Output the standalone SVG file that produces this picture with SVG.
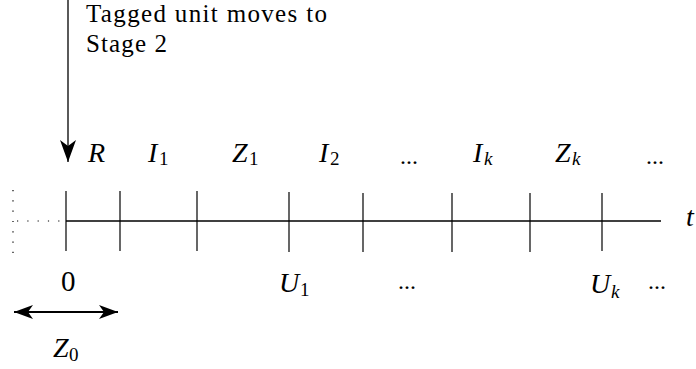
<svg xmlns="http://www.w3.org/2000/svg" width="696" height="369" viewBox="0 0 696 369">
<style>
text{font-family:"Liberation Serif","DejaVu Serif",serif;fill:#000}
.m{font-style:italic;font-size:28px}
.s{font-size:19px;font-style:normal}
.si{font-size:19px;font-style:italic}
.n{font-size:29px}
.d{font-size:24px}
.cap{font-size:25px}
.tk{stroke:#000;stroke-width:1.2}
</style>
<defs>
<marker id="big" viewBox="0 0 22 16" refX="22" refY="8" markerWidth="22" markerHeight="16" markerUnits="userSpaceOnUse" orient="auto">
<path d="M0,0 L22,8 L0,16 L6,8 Z" fill="#000"/>
</marker>
<marker id="dbl" viewBox="0 0 19 14" refX="19" refY="7" markerWidth="19" markerHeight="14" markerUnits="userSpaceOnUse" orient="auto-start-reverse">
<path d="M0,0 L19,7 L0,14 L5,7 Z" fill="#000"/>
</marker>
</defs>
<g id="connectors">
<line x1="68" y1="0" x2="68" y2="162" stroke="#000" stroke-width="1.3" marker-end="url(#big)"/>
<line x1="14" y1="312" x2="118" y2="312" stroke="#000" stroke-width="1.8" marker-start="url(#dbl)" marker-end="url(#dbl)"/>
</g>
<g id="axis">
<line x1="66" y1="221" x2="661" y2="221" stroke="#000" stroke-width="1.3"/>
<line x1="17" y1="221" x2="64" y2="221" stroke="#000" stroke-width="1.2" stroke-dasharray="1.2,9.1"/>
<line x1="13" y1="190" x2="13" y2="253" stroke="#000" stroke-width="1.2" stroke-dasharray="1.2,9.1"/>
<line class="tk" x1="66" y1="191" x2="66" y2="251"/>
<line class="tk" x1="120" y1="191" x2="120" y2="251"/>
<line class="tk" x1="197" y1="191" x2="197" y2="251"/>
<line class="tk" x1="289" y1="192" x2="289" y2="252"/>
<line class="tk" x1="363" y1="193" x2="363" y2="252"/>
<line class="tk" x1="452" y1="193" x2="452" y2="252"/>
<line class="tk" x1="530" y1="193" x2="530" y2="252"/>
<line class="tk" x1="602" y1="193" x2="602" y2="251"/>
</g>
<g id="caption">
<text class="cap" x="86" y="22" textLength="241" lengthAdjust="spacing">Tagged unit moves to</text>
<text class="cap" x="86" y="52" textLength="81" lengthAdjust="spacing">Stage 2</text>
</g>
<g id="top-labels">
<text class="m" x="88" y="162">R</text>
<text class="m" x="148" y="162">I<tspan class="s" x="159" dy="3">1</tspan></text>
<text class="m" x="232" y="162">Z<tspan class="s" x="249" dy="3">1</tspan></text>
<text class="m" x="319" y="162">I<tspan class="s" x="330" dy="3">2</tspan></text>
<text class="d" x="400" y="164">...</text>
<text class="m" x="473" y="162">I<tspan class="si" x="484" dy="3">k</tspan></text>
<text class="m" x="555" y="162">Z<tspan class="si" x="572" dy="3">k</tspan></text>
<text class="d" x="646" y="164">...</text>
<text class="m" x="686" y="226">t</text>
</g>
<g id="bottom-labels">
<text class="n" x="61" y="291">0</text>
<text class="m" x="279" y="292">U<tspan class="s" x="300" dy="4">1</tspan></text>
<text class="d" x="398" y="289">...</text>
<text class="m" x="590" y="293">U<tspan class="si" x="611" dy="5">k</tspan></text>
<text class="d" x="648" y="289">...</text>
<text class="m" x="53" y="357">Z<tspan class="s" x="69" dy="4">0</tspan></text>
</g>
</svg>
